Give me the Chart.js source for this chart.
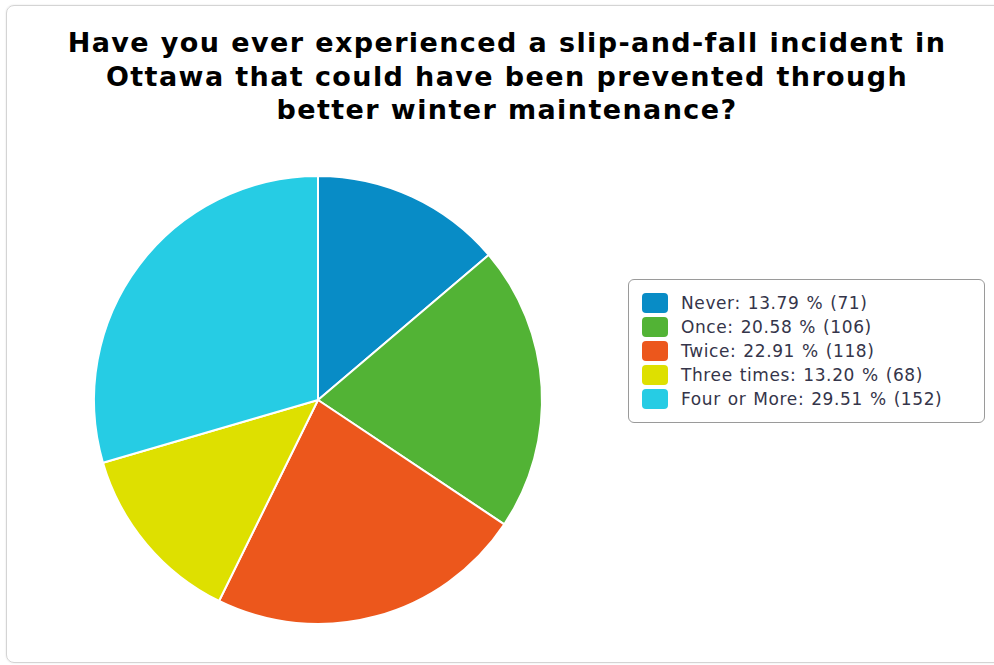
<!DOCTYPE html>
<html>
<head>
<meta charset="utf-8">
<script src="https://cdn.jsdelivr.net/npm/chart.js@4"></script>
<style>
  html, body { margin:0; padding:0; background:#fff; overflow:hidden; }
  body { width:994px; height:665px; position:relative; font-family:"DejaVu Sans", sans-serif; }
  .card {
    position:absolute; left:6px; top:5px; width:1002px; height:656px;
    border:1px solid #d4d4d4; border-radius:8px; box-shadow:0 0 2px rgba(0,0,0,0.12);
  }
  #title {
    position:absolute; left:0; top:26px; width:1014px; text-align:center;
    font-weight:bold; font-size:27px; line-height:33.5px; letter-spacing:1.4px; color:#000;
  }
  #pieWrap { position:absolute; left:78px; top:160px; width:480px; height:480px; }
  #legend {
    position:absolute; left:628px; top:279px; width:355px; height:142px;
    border:1px solid #9a9a9a; border-radius:6px;
  }
  .item { position:absolute; left:13px; height:24px; display:flex; align-items:center; }
  .swatch { width:26px; height:20px; border-radius:4px; margin-right:13px; }
  .label { font-size:17px; letter-spacing:0.6px; word-spacing:1px; color:#35354a; white-space:nowrap; }
</style>
</head>
<body>
<div class="card"></div>
<div id="title">Have you ever experienced a slip-and-fall incident in<br>Ottawa that could have been prevented through<br>better winter maintenance?</div>
<div id="pieWrap"><canvas id="pie" width="480" height="480"></canvas></div>
<div id="legend"></div>

<script>
// survey answers
const categories = ['Never','Once','Twice','Three times','Four or More'];
const counts = [71, 106, 118, 68, 152];
const percents = ['13.79','20.58','22.91','13.20','29.51'];
const colors = ['#088cc6','#52b335','#ec571c','#dee000','#26cce4'];

function buildLegend(){
    const box = document.getElementById('legend');
    box.innerHTML = categories.map((c,i)=>{
        return `<div class="item" style="top:${11 + i*24}px">
                    <div class="swatch" style="background:${colors[i]}"></div>
                    <span class="label">${c}: ${percents[i]} % (${counts[i]})</span>
                </div>`;
    }).join('');
}

const ctx = document.getElementById('pie').getContext('2d');
new Chart(ctx,{
    type:'pie',
    data:{
        labels: categories,
        datasets:[{
            data: counts,
            backgroundColor: colors,
            borderColor:'#ffffff',
            borderWidth:2,
            radius:224
        }]
    },
    options:{
        responsive:false,
        animation:false,
        layout:{padding:0},
        plugins:{
            legend:{display:false},
            title:{display:false},
            tooltip:{enabled:false}
        }
    }
});

buildLegend();
</script>
</body>
</html>
